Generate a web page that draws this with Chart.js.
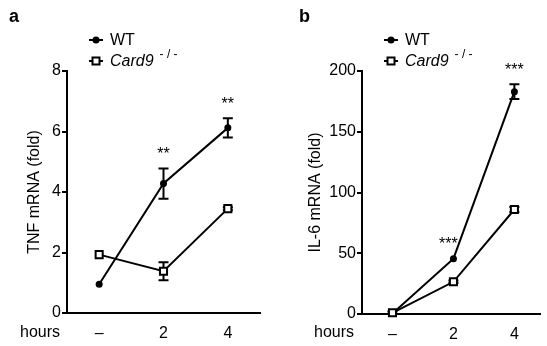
<!DOCTYPE html>
<html>
<head>
<meta charset="utf-8">
<script src="https://cdn.jsdelivr.net/npm/chart.js@4.4.0/dist/chart.umd.min.js"></script>
<style>
  html, body { margin: 0; padding: 0; background: #fff; }
  #wrap { position: relative; width: 547px; height: 346px; }
  .panel { position: absolute; top: 0; height: 346px; }
  #panelA { left: 0; width: 273px; }
  #panelB { left: 273px; width: 274px; }
</style>
</head>
<body>
<div id="wrap">
  <div class="panel" id="panelA"><canvas id="chartA"></canvas></div>
  <div class="panel" id="panelB"><canvas id="chartB"></canvas></div>
</div>
<script>
// data
const hours = ["–", "2", "4"];

const tnfWt = [0.95, 4.28, 6.12];
const tnfWtErr = [0, 0.5, 0.32];
const tnfKo = [1.93, 1.38, 3.45];
const tnfKoErr = [0, 0.3, 0.05];
const tnfStars = ["", "**", "**"];
const tnfTicks = [0, 2, 4, 6, 8];

const il6Wt = [0.5, 45.5, 183];
const il6WtErr = [1.5, 0, 6];
const il6Ko = [1, 26.5, 86];
const il6KoErr = [0, 1, 2];
const il6Stars = ["", "***", "***"];
const il6Ticks = [0, 50, 100, 150, 200];

const FONT = "'Liberation Sans', Arial, sans-serif";

const toPoints = (vals) => vals.map((v, i) => ({ x: i, y: v }));

// error bars, stars, legend, panel letter and "hours" label
const extrasPlugin = {
  id: "extras",
  beforeDatasetsDraw(chart, args, opts) {
    const ctx = chart.ctx;
    const y = chart.scales.y;
    ctx.save();
    ctx.strokeStyle = "#000";
    ctx.lineWidth = 2;
    chart.data.datasets.forEach((ds, di) => {
      const meta = chart.getDatasetMeta(di);
      ds.err.forEach((e, j) => {
        if (!e) return;
        const px = meta.data[j].x;
        const top = y.getPixelForValue(ds.data[j].y + e);
        const bot = y.getPixelForValue(Math.max(0, ds.data[j].y - e));
        ctx.beginPath();
        ctx.moveTo(px, top); ctx.lineTo(px, bot);
        ctx.moveTo(px - 5, top); ctx.lineTo(px + 5, top);
        ctx.moveTo(px - 5, bot); ctx.lineTo(px + 5, bot);
        ctx.stroke();
      });
    });
    ctx.restore();
  },
  afterDraw(chart, args, opts) {
    const ctx = chart.ctx;
    const y = chart.scales.y;
    ctx.save();
    ctx.fillStyle = "#000";

    // significance stars above WT
    const wt = chart.data.datasets.find((d) => d.label === "WT");
    const wtMeta = chart.getDatasetMeta(chart.data.datasets.indexOf(wt));
    ctx.font = "16px " + FONT;
    ctx.textAlign = "center";
    ctx.textBaseline = "middle";
    opts.stars.forEach((s, j) => {
      if (!s) return;
      const top = y.getPixelForValue(wt.data[j].y + wt.err[j]);
      ctx.fillText(s, wtMeta.data[j].x + (opts.starShift[j] || 0), top - 14);
    });

    // panel letter
    ctx.font = "bold 18px " + FONT;
    ctx.textAlign = "left";
    ctx.textBaseline = "alphabetic";
    ctx.fillText(opts.letter, opts.letterX, 22);

    // hours label
    ctx.font = "16px " + FONT;
    ctx.textBaseline = "middle";
    ctx.fillText("hours", opts.hoursX, 333);

    // legend
    const lx = opts.legendX;
    ctx.strokeStyle = "#000";
    ctx.lineWidth = 2;
    [40, 61].forEach((ly, k) => {
      ctx.beginPath();
      ctx.moveTo(lx - 7, ly); ctx.lineTo(lx + 7, ly);
      ctx.stroke();
      if (k === 0) {
        ctx.beginPath();
        ctx.arc(lx, ly, 3.5, 0, Math.PI * 2);
        ctx.fill();
      } else {
        ctx.fillStyle = "#fff";
        ctx.fillRect(lx - 3.5, ly - 3.5, 7, 7);
        ctx.strokeRect(lx - 3.5, ly - 3.5, 7, 7);
        ctx.fillStyle = "#000";
      }
    });
    ctx.font = "16px " + FONT;
    ctx.fillText("WT", lx + 14, 41);
    ctx.font = "italic 16px " + FONT;
    ctx.fillText("Card9", lx + 14, 62);
    const w = ctx.measureText("Card9").width;
    ctx.font = "12px " + FONT;
    ctx.fillText("- / -", lx + 14 + w + 6, 55);
    ctx.restore();
  },
};

function makePanel(canvasId, p) {
  const base = {
    borderColor: "#000",
    borderWidth: 2,
    pointBorderColor: "#000",
    pointBorderWidth: 2,
    clip: false,
  };
  return new Chart(document.getElementById(canvasId), {
    type: "line",
    data: {
      datasets: [
        {
          ...base,
          label: "Card9",
          data: toPoints(p.ko),
          err: p.koErr,
          pointStyle: "rect",
          pointRadius: 5,
          pointBackgroundColor: "#fff",
        },
        {
          ...base,
          label: "WT",
          data: toPoints(p.wt),
          err: p.wtErr,
          pointStyle: "circle",
          pointRadius: 3.5,
          pointBorderWidth: 0,
          pointBackgroundColor: "#000",
        },
      ],
    },
    options: {
      responsive: true,
      maintainAspectRatio: false,
      animation: false,
      layout: { padding: { top: 71, right: p.padRight, left: 0, bottom: 0 } },
      plugins: {
        legend: { display: false },
        tooltip: { enabled: false },
        extras: {
          stars: p.stars,
          starShift: p.starShift,
          letter: p.letter,
          letterX: p.letterX,
          hoursX: p.hoursX,
          legendX: p.legendX,
        },
      },
      scales: {
        x: {
          type: "linear",
          min: -0.5,
          max: p.xMax,
          afterBuildTicks: (s) => { s.ticks = hours.map((h, i) => ({ value: i })); },
          afterFit: (s) => { s.height = p.xHeight; },
          ticks: {
            callback: (v) => hours[v],
            color: "#000",
            font: { family: FONT, size: 16 },
            padding: 11,
            maxRotation: 0,
          },
          grid: { display: false, drawTicks: false },
          border: { display: true, color: "#000", width: 2 },
        },
        y: {
          min: 0,
          max: p.yTicks[p.yTicks.length - 1],
          afterBuildTicks: (s) => { s.ticks = p.yTicks.map((v) => ({ value: v })); },
          afterFit: (s) => { s.width = p.yWidth; },
          ticks: {
            color: "#000",
            font: { family: FONT, size: 16 },
            padding: 1,
          },
          grid: { drawOnChartArea: false, drawTicks: true, tickLength: 5, color: "#000", lineWidth: 2 },
          border: { display: true, color: "#000", width: 2 },
          title: {
            display: true,
            text: p.title,
            color: "#000",
            font: { family: FONT, size: 16 },
            padding: { top: p.titlePad, bottom: 0 },
          },
        },
      },
    },
    plugins: [extrasPlugin],
  });
}

makePanel("chartA", {
  wt: tnfWt, wtErr: tnfWtErr, ko: tnfKo, koErr: tnfKoErr,
  stars: tnfStars, starShift: [0, 0, 0], yTicks: tnfTicks,
  title: "TNF mRNA (fold)", titlePad: 25,
  yWidth: 67, xHeight: 33, padRight: 13, xMax: 2.5,
  letter: "a", letterX: 9, hoursX: 20, legendX: 96,
});

makePanel("chartB", {
  wt: il6Wt, wtErr: il6WtErr, ko: il6Ko, koErr: il6KoErr,
  stars: il6Stars, starShift: [0, -5, 0], yTicks: il6Ticks,
  title: "IL-6 mRNA (fold)", titlePad: 33,
  yWidth: 89, xHeight: 32, padRight: 0, xMax: 2.42,
  letter: "b", letterX: 26, hoursX: 41, legendX: 118,
});
</script>
</body>
</html>
